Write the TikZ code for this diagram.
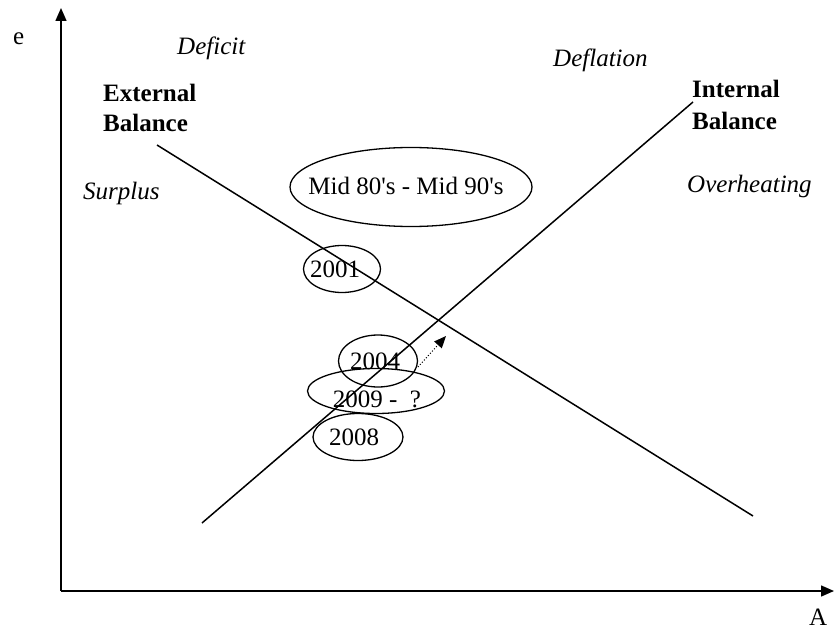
\documentclass[tikz,border=0pt]{standalone}
\usepackage{fontspec}
\setmainfont{Liberation Serif}
\usetikzlibrary{arrows.meta,shapes.geometric}
\begin{document}
\begin{tikzpicture}[x=1pt,y=-1pt,
  lbl/.style={font=\fontsize{25}{30}\selectfont, inner sep=0pt, anchor=base west},
  ilbl/.style={lbl, font=\fontsize{25}{30}\selectfont\itshape},
  blbl/.style={lbl, font=\fontsize{25}{30}\selectfont\bfseries},
  oval/.style={draw, ellipse, line width=1.3pt, inner sep=0pt},
  axis/.style={line width=1.5pt, -{Triangle[length=13pt,width=11pt]}},
  curve/.style={line width=1.5pt}
]
\useasboundingbox (0,0) rectangle (835,631);
% axes
\coordinate (O) at (61,591);
\coordinate (Ytop) at (61,8);
\coordinate (Xend) at (834,591);
\draw[axis] (O) -- (Ytop);
\draw[axis] (O) -- (Xend);
\node[lbl] (e) at (13,45) {e};
\node[lbl] (A) at (809,625) {A};
% balance lines
\coordinate (EB1) at (157,145);
\coordinate (EB2) at (753,516);
\coordinate (IB1) at (202,523);
\coordinate (IB2) at (693,102);
\draw[curve] (EB1) -- (EB2);
\draw[curve] (IB1) -- (IB2);
% region labels
\node[ilbl] (deficit) at (177,55) {Deficit};
\node[ilbl] (surplus) at (83,200) {Surplus};
\node[ilbl] (deflation) at (553,67) {Deflation};
\node[ilbl] (overheat) at (687,193) {Overheating};
\node[blbl] (ext1) at (103,102) {External};
\node[blbl] (ext2) at (103,132) {Balance};
\node[blbl] (int1) at (692,98) {Internal};
\node[blbl] (int2) at (692,130) {Balance};
% ovals
\node[oval, minimum width=242pt, minimum height=79pt] (mid) at (411,187) {};
\node[lbl, anchor=base] (tmid) at (406,195) {Mid 80\textquotesingle s - Mid 90\textquotesingle s};
\node[oval, minimum width=77pt, minimum height=47pt] (y2001) at (342,269) {};
\node[lbl, anchor=base] (t2001) at (335,277) {2001};
\node[oval, minimum width=79pt, minimum height=52pt] (y2004) at (378,361) {};
\node[lbl, anchor=base] (t2004) at (375,369) {2004};
\node[oval, minimum width=137pt, minimum height=45pt] (y2009) at (376,391) {};
\node[lbl, anchor=base] (t2009) at (377,407) {2009 -\ \ ?};
\node[oval, minimum width=90pt, minimum height=47pt] (y2008) at (358,437) {};
\node[lbl, anchor=base] (t2008) at (354,445) {2008};
% dotted arrow
\coordinate (d1) at (418,367);
\coordinate (d2) at (446,336);
\draw[line width=1pt, dotted, -{Triangle[length=12pt,width=10pt]}] (d1) -- (d2);
\end{tikzpicture}
\end{document}
